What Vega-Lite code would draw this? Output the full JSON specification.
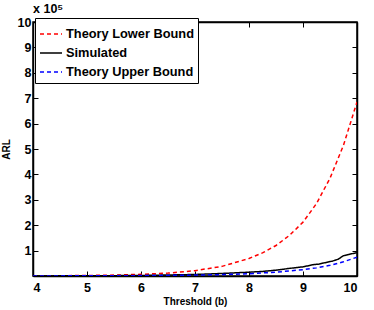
{
  "$schema": "https://vega.github.io/schema/vega-lite/v6.json",
  "width": 324,
  "height": 254,
  "autosize": "none",
  "padding": {"left": 33, "top": 22, "right": 17, "bottom": 34},
  "background": "white",
  "title": {"text": "x 10⁵", "anchor": "start", "frame": "group", "font": "Liberation Sans", "fontSize": 12.5, "fontWeight": "bold", "color": "black", "offset": 1},
  "data": {"values": [
    {"series": "Theory Lower Bound", "b": 4, "ARL": 600},
    {"series": "Theory Lower Bound", "b": 4.5, "ARL": 1100},
    {"series": "Theory Lower Bound", "b": 5, "ARL": 2000},
    {"series": "Theory Lower Bound", "b": 5.5, "ARL": 3600},
    {"series": "Theory Lower Bound", "b": 6, "ARL": 6500},
    {"series": "Theory Lower Bound", "b": 6.5, "ARL": 11500},
    {"series": "Theory Lower Bound", "b": 7, "ARL": 21000},
    {"series": "Theory Lower Bound", "b": 7.5, "ARL": 38000},
    {"series": "Theory Lower Bound", "b": 8, "ARL": 69000},
    {"series": "Theory Lower Bound", "b": 8.25, "ARL": 91000},
    {"series": "Theory Lower Bound", "b": 8.5, "ARL": 120000},
    {"series": "Theory Lower Bound", "b": 8.75, "ARL": 160000},
    {"series": "Theory Lower Bound", "b": 9, "ARL": 212000},
    {"series": "Theory Lower Bound", "b": 9.25, "ARL": 285000},
    {"series": "Theory Lower Bound", "b": 9.5, "ARL": 385000},
    {"series": "Theory Lower Bound", "b": 9.75, "ARL": 515000},
    {"series": "Theory Lower Bound", "b": 10, "ARL": 685000},
    {"series": "Simulated", "b": 4, "ARL": 300},
    {"series": "Simulated", "b": 5, "ARL": 800},
    {"series": "Simulated", "b": 6, "ARL": 2000},
    {"series": "Simulated", "b": 7, "ARL": 6000},
    {"series": "Simulated", "b": 7.5, "ARL": 10000},
    {"series": "Simulated", "b": 8, "ARL": 15000},
    {"series": "Simulated", "b": 8.25, "ARL": 18000},
    {"series": "Simulated", "b": 8.5, "ARL": 23000},
    {"series": "Simulated", "b": 8.75, "ARL": 30000},
    {"series": "Simulated", "b": 9, "ARL": 36000},
    {"series": "Simulated", "b": 9.2, "ARL": 45000},
    {"series": "Simulated", "b": 9.3, "ARL": 47000},
    {"series": "Simulated", "b": 9.4, "ARL": 52000},
    {"series": "Simulated", "b": 9.55, "ARL": 59000},
    {"series": "Simulated", "b": 9.65, "ARL": 66000},
    {"series": "Simulated", "b": 9.75, "ARL": 80000},
    {"series": "Simulated", "b": 9.85, "ARL": 85000},
    {"series": "Simulated", "b": 10, "ARL": 92000},
    {"series": "Theory Upper Bound", "b": 4, "ARL": 200},
    {"series": "Theory Upper Bound", "b": 5, "ARL": 700},
    {"series": "Theory Upper Bound", "b": 6, "ARL": 1500},
    {"series": "Theory Upper Bound", "b": 7, "ARL": 3500},
    {"series": "Theory Upper Bound", "b": 7.5, "ARL": 5500},
    {"series": "Theory Upper Bound", "b": 8, "ARL": 9000},
    {"series": "Theory Upper Bound", "b": 8.5, "ARL": 15000},
    {"series": "Theory Upper Bound", "b": 9, "ARL": 25000},
    {"series": "Theory Upper Bound", "b": 9.25, "ARL": 32000},
    {"series": "Theory Upper Bound", "b": 9.5, "ARL": 42000},
    {"series": "Theory Upper Bound", "b": 9.75, "ARL": 56000},
    {"series": "Theory Upper Bound", "b": 10, "ARL": 74000}
  ]},
  "layer": [
    {
      "mark": {"type": "line", "strokeWidth": 1.5, "clip": true},
      "encoding": {
        "x": {"field": "b", "type": "quantitative", "scale": {"domain": [4, 10], "nice": false, "zero": false},
              "axis": {"title": "Threshold (b)", "values": [4, 5, 6, 7, 8, 9, 10], "format": "d", "orient": "bottom", "labelPadding": 10}},
        "y": {"field": "ARL", "type": "quantitative", "scale": {"domain": [0, 1000000], "nice": false},
              "axis": {"title": "ARL", "values": [100000, 200000, 300000, 400000, 500000, 600000, 700000, 800000, 900000, 1000000], "labelExpr": "datum.value / 100000", "orient": "left", "labelPadding": 7}},
        "color": {"field": "series", "type": "nominal",
                  "scale": {"domain": ["Theory Lower Bound", "Simulated", "Theory Upper Bound"], "range": ["#ff0000", "#000000", "#0000ff"]},
                  "legend": {"title": null, "orient": "none", "legendX": 2, "legendY": -4}},
        "strokeDash": {"field": "series", "type": "nominal",
                  "scale": {"domain": ["Theory Lower Bound", "Simulated", "Theory Upper Bound"], "range": [[4, 3], [1, 0], [4, 3]]},
                  "legend": {"title": null, "orient": "none", "legendX": 2, "legendY": -4}}
      }
    },
    {
      "mark": {"type": "line", "opacity": 0},
      "encoding": {
        "x": {"field": "b", "type": "quantitative", "axis": {"orient": "top", "title": null, "labels": false, "values": [4, 5, 6, 7, 8, 9, 10]}},
        "y": {"field": "ARL", "type": "quantitative", "axis": {"orient": "right", "title": null, "labels": false, "values": [100000, 200000, 300000, 400000, 500000, 600000, 700000, 800000, 900000, 1000000]}},
        "detail": {"field": "series"}
      }
    }
  ],
  "resolve": {"axis": {"x": "independent", "y": "independent"}},
  "config": {
    "view": {"stroke": "black", "strokeWidth": 1.5},
    "axis": {
      "grid": false,
      "domainColor": "black", "domainWidth": 1.5,
      "tickColor": "black", "tickWidth": 1, "tickSize": -5,
      "labelFont": "Liberation Sans", "labelFontSize": 12.5, "labelFontWeight": "bold", "labelColor": "black",
      "titleFont": "Liberation Sans", "titleFontSize": 10, "titleFontWeight": "bold", "titleColor": "black"
    },
    "axisX": {"titlePadding": 3},
    "axisY": {"titlePadding": 6},
    "legend": {
      "strokeColor": "black", "fillColor": "white", "padding": 4,
      "symbolType": "stroke", "symbolSize": 484, "symbolStrokeWidth": 1.5,
      "labelFont": "Liberation Sans", "labelFontSize": 12.8, "labelFontWeight": "bold", "labelColor": "black",
      "labelOffset": 3, "rowPadding": -7, "labelLimit": 300
    }
  }
}
